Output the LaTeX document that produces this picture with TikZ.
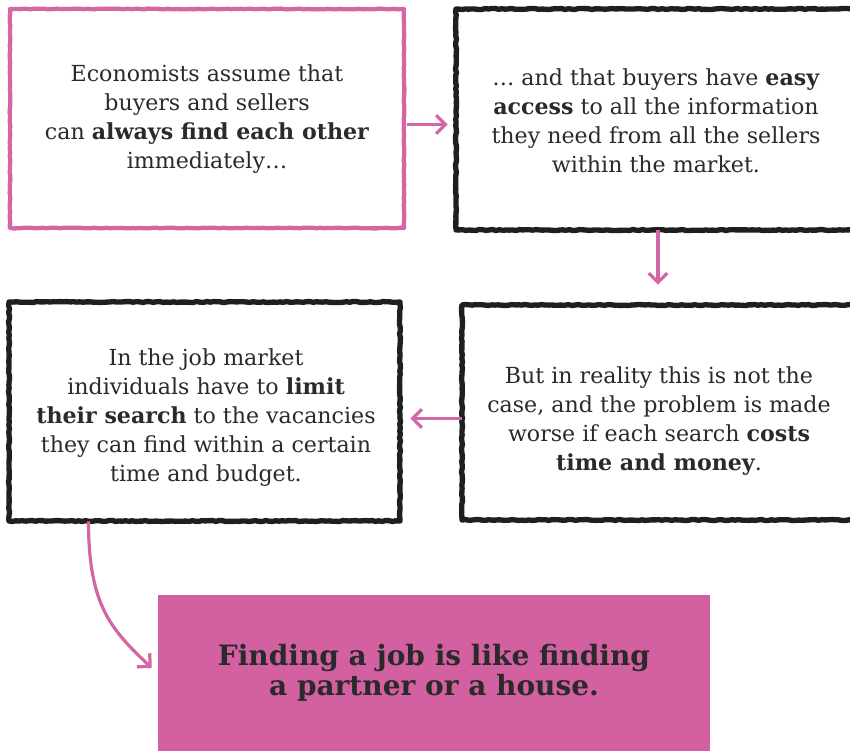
\documentclass[tikz,border=0pt]{standalone}
\usepackage{fontspec}
\setmainfont{DejaVu Serif}
\usetikzlibrary{arrows.meta,decorations.pathmorphing}
\definecolor{pinkline}{HTML}{D466A3}
\definecolor{pinkfill}{HTML}{D360A1}
\definecolor{txt}{HTML}{2A2A2A}
\begin{document}
\begin{tikzpicture}[x=0.75pt,y=-0.75pt,
  txtbox/.style={align=center, text=txt, font=\fontsize{16.6}{21.75}\selectfont, inner sep=0pt},
  sketch/.style={draw=black!88, line width=4pt, line join=round, decorate,
    decoration={random steps, segment length=2.5pt, amplitude=0.4pt}},
  sketchpink/.style={draw=pinkline, line width=3.2pt, line join=round, decorate,
    decoration={random steps, segment length=2.5pt, amplitude=0.3pt}},
  flow/.style={draw=pinkline, line width=2.4pt, -{Straight Barb[length=7pt,width=14pt,line width=2.4pt]}}
]
\useasboundingbox (0,0) rectangle (850,751);
\fill[white] (0,0) rectangle (850,751);
% frames
\coordinate (b1nw) at (10,9);   \coordinate (b1se) at (404,228);
\coordinate (b2nw) at (456,9);  \coordinate (b2se) at (855,230);
\coordinate (b3nw) at (9,302);  \coordinate (b3se) at (400,521);
\coordinate (b4nw) at (462,305); \coordinate (b4se) at (855,520);
\draw[sketchpink] (b1nw) rectangle (b1se);
\draw[sketch] (b2nw) rectangle (b2se);
\draw[sketch] (b3nw) rectangle (b3se);
\draw[sketch] (b4nw) rectangle (b4se);
% invisible nodes covering boxes
\node[minimum width=394*0.75pt, minimum height=219*0.75pt, inner sep=0pt] (b1) at (207,118.5) {};
\node[minimum width=399*0.75pt, minimum height=221*0.75pt, inner sep=0pt] (b2) at (655.5,119.5) {};
\node[minimum width=391*0.75pt, minimum height=219*0.75pt, inner sep=0pt] (b3) at (204.5,411.5) {};
\node[minimum width=393*0.75pt, minimum height=215*0.75pt, inner sep=0pt] (b4) at (658.5,412.5) {};
% texts
\node[txtbox] (t1) at (207,119) {Economists assume that\\buyers and sellers\\can \textbf{always find each other}\\immediately\ldots};
\node[txtbox] (t2) at (656,121) {\ldots\ and that buyers have \textbf{easy}\\\textbf{access} to all the information\\they need from all the sellers\\within the market.};
\node[txtbox] (t3) at (206,418) {In the job market\\individuals have to \textbf{limit}\\\textbf{their search} to the vacancies\\they can find within a certain\\time and budget.};
\node[txtbox] (t4) at (659,421) {But in reality this is not the\\case, and the problem is made\\worse if each search \textbf{costs}\\\textbf{time and money}.};
% final box
\node[fill=pinkfill, minimum width=552*0.75pt, minimum height=156*0.75pt, inner sep=0pt,
  align=center, text=txt, font=\bfseries\fontsize{21}{22.5}\selectfont] (fin) at (434,673)
  {Finding a job is like finding\\a partner or a house.};
% connectors
\draw[flow] ([xshift=3*0.75pt,yshift=-6*0.75pt]b1.east) -- ([xshift=-8*0.75pt,yshift=-6*0.75pt]b1.east -| b2.west);
\draw[flow] ([xshift=2.5*0.75pt]b2.south) -- ([xshift=2.5*0.75pt,yshift=20*0.75pt]b2.south |- b4.north);
\draw[flow] ([yshift=-6*0.75pt]b4.west) -- ([xshift=10*0.75pt,yshift=-6*0.75pt]b4.west -| b3.east);
\draw[flow] ([xshift=-116*0.75pt]b3.south) .. controls +(0,85) and +(-40,-38) .. ([xshift=-6*0.75pt,yshift=5*0.75pt]fin.west);
\end{tikzpicture}
\end{document}
